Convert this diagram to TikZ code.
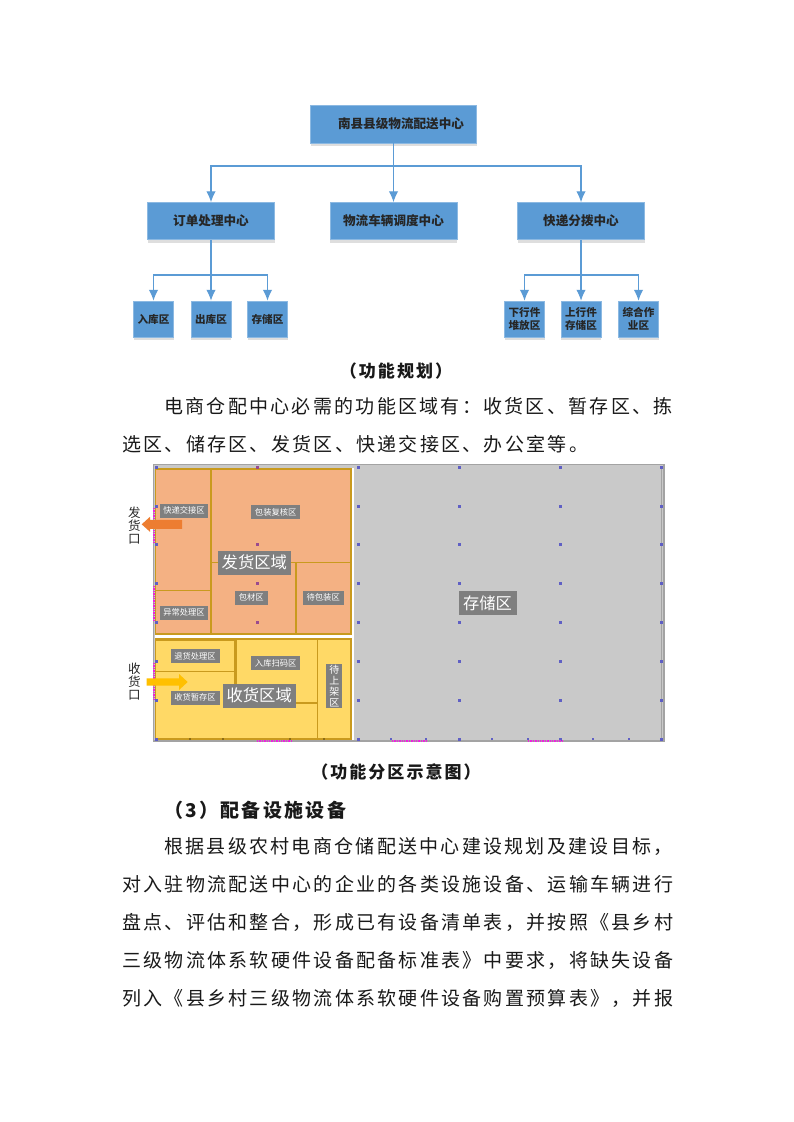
\documentclass[tikz,border=0pt]{standalone}
\usepackage{fontspec}
\usepackage{xcolor}
\usetikzlibrary{arrows.meta,shadows}
\setmainfont{Noto Sans CJK SC}
\newfontfamily\bodyfont[LetterSpace=12]{Noto Sans CJK SC}
\definecolor{boxblue}{HTML}{5B9BD5}
\definecolor{linkblue}{HTML}{5B9BD5}
\definecolor{floorgray}{HTML}{C9C9C9}
\definecolor{edgegray}{HTML}{A3A3A3}
\definecolor{tagbg}{HTML}{7F7F7F}
\definecolor{sendfill}{HTML}{F4B183}
\definecolor{takefill}{HTML}{FFD966}
\definecolor{zoneline}{HTML}{C99A1E}
\definecolor{dotblue}{HTML}{5F5FC4}
\definecolor{dotplum}{HTML}{9A4A8E}
\definecolor{doorpink}{HTML}{F020E0}
\definecolor{sendarrow}{HTML}{ED7D31}
\definecolor{takearrow}{HTML}{FFC000}
\tikzset{
  unit/.style={fill=boxblue,draw=boxblue!70!white,line width=0.5pt,inner sep=0pt,align=center,text=black!85,
    font=\bfseries\fontsize{12.6}{15}\selectfont,drop shadow={shadow xshift=0pt,shadow yshift=-3pt,opacity=.13,fill=black}},
  topunit/.style={unit,minimum width=166pt,minimum height=38pt},
  midunit/.style={unit,minimum width=127pt,minimum height=37pt},
  leafunit/.style={unit,minimum width=40pt,minimum height=36pt,font=\bfseries\fontsize{10.6}{12.5}\selectfont},
  link/.style={draw=linkblue,line width=1.2pt},
  linkto/.style={link,-{Latex[length=11pt,width=9.5pt]}},
  tag/.style={fill=tagbg,text=white,inner sep=0pt,align=center,font=\fontsize{8.3}{10}\selectfont,minimum height=14pt},
  bigtag/.style={tag,font=\fontsize{16.3}{18}\selectfont,minimum height=24pt},
  zone/.style={draw=zoneline,line width=1.2pt},
  door/.style={draw=doorpink,line width=1.4pt,densely dotted},
  mouth/.style={inner sep=0pt,align=center,font=\fontsize{12.5}{13}\selectfont,text=black!85},
  textline/.style={anchor=west,inner sep=0pt,font=\bodyfont\fontsize{19}{21}\selectfont,text=black!90},
  captext/.style={inner sep=0pt,font=\bodyfont\bfseries\fontsize{17}{21}\selectfont,text=black!90}
}
\begin{document}
\begin{tikzpicture}[x=1pt,y=-1pt]
\useasboundingbox (0,0) rectangle (793,1122);
\fill [white] (0,0) rectangle (793,1122);
% top chart
\node (root) [topunit] at (393.5,124) {\hspace*{15pt}南县县级物流配送中心};
\node (order) [midunit] at (211,221) {订单处理中心};
\node (truck) [midunit] at (393.5,221) {物流车辆调度中心};
\node (express) [midunit] at (581,221) {快递分拨中心};
\node (inbound) [leafunit] at (153.5,319) {入库区};
\node (outbound) [leafunit] at (211,319) {出库区};
\node (storage) [leafunit] at (267.5,319) {存储区};
\node (down) [leafunit] at (524.5,319) {下行件\\堆放区};
\node (up) [leafunit] at (581,319) {上行件\\存储区};
\node (mixed) [leafunit] at (638.5,319) {综合作\\业区};
\coordinate (busroot) at (393.5,166);
\coordinate (busorder) at (211,275);
\coordinate (busexpress) at (581,275);
\draw [linkto] (root.south) -- (truck.north);
\draw [linkto] (busroot) -| (order.north);
\draw [linkto] (busroot) -| (express.north);
\draw [linkto] (order.south) -- (outbound.north);
\draw [linkto] (busorder) -| (inbound.north);
\draw [linkto] (busorder) -| (storage.north);
\draw [linkto] (express.south) -- (up.north);
\draw [linkto] (busexpress) -| (down.north);
\draw [linkto] (busexpress) -| (mixed.north);
\node (capplan) [captext] at (396,371) {（功能规划）};
\node (linea) [textline] at (164,406) {电商仓配中心必需的功能区域有：收货区、暂存区、拣};
\node (lineb) [textline] at (122,444) {选区、储存区、发货区、快递交接区、办公室等。};
% floor plan
\fill [floorgray] (153,464) rectangle (665,741);
\fill [white] (155,468) rectangle (354,740);
\draw [edgegray,line width=1.2pt] (153.5,464.5) rectangle (664,741);
\draw [edgegray,line width=0.8pt] (661.5,466) -- (661.5,740);
\draw [zone,fill=sendfill] (155.7,469) rectangle (351,634);
\draw [zone] (211,469) -- (211,634);
\draw [zone] (155.7,590.7) -- (211,590.7);
\draw [zone] (211,562.3) -- (351,562.3);
\draw [zone] (296,562.3) -- (296,634);
\draw [zone,fill=takefill] (155.7,639) rectangle (351,739);
\draw [zone] (155.7,640.7) -- (235,640.7);
\draw [zone] (155.7,671.7) -- (235,671.7);
\draw [zone] (235,640) -- (235,708);
\draw [zone] (236.8,639) -- (236.8,703);
\draw [zone] (236.8,703) -- (317.3,703);
\draw [zone] (317.3,639) -- (317.3,739);
\foreach \px in {358,459,560.7,661}
  \foreach \py in {467,506,544.7,583.7,622.7,661.3,700.3,739}
    \fill [dotblue] (\px-1.5,\py-1.5) rectangle ++(3,3);
\foreach \py in {467,506,544.7,583.7,622.7,661.3,700.3,739}
  \fill [dotblue] (154.7,\py-1.5) rectangle ++(3,3);
\foreach \py in {467,544.7,583.7,622.7}
  \fill [dotplum] (255.5,\py-1.5) rectangle ++(3,3);
\foreach \px in {390.7,426,491.7,527.7,592.7,628.7}
  \fill [dotblue] (\px-1,738) rectangle ++(2,2);
\foreach \px in {189.7,223,290,324}
  \fill [zoneline!70!black] (\px-1,738) rectangle ++(2,2);
\draw [door] (154,508) -- (154,542);
\draw [door] (154,586) -- (154,622);
\draw [door] (154,663) -- (154,700);
\draw [door] (257,741) -- (292,741);
\draw [door] (392,741) -- (426,741);
\draw [door] (528,741) -- (562,741);
\fill [sendarrow] (182,519.8) -- (150,519.8) -- (150,516.8) -- (141.7,524.3) -- (150,531.8) -- (150,528.8) -- (182,528.8) -- cycle;
\fill [takearrow] (146.7,678.3) -- (179,678.3) -- (179,674) -- (187.7,682) -- (179,690) -- (179,685.7) -- (146.7,685.7) -- cycle;
\node (quick) [tag,minimum width=48pt] at (184,510.7) {快递交接区};
\node (check) [tag,minimum width=49pt] at (275.7,512) {包装复核区};
\node (sendzone) [bigtag,minimum width=73pt] at (254.3,562.5) {发货区域};
\node (material) [tag,minimum width=33pt] at (251.3,597.8) {包材区};
\node (waitpack) [tag,minimum width=41pt] at (323.2,597.8) {待包装区};
\node (fault) [tag,minimum width=48pt] at (184,612.7) {异常处理区};
\node (refund) [tag,minimum width=49pt] at (195,656.2) {退货处理区};
\node (scan) [tag,minimum width=49pt] at (275.7,663.3) {入库扫码区};
\node (hold) [tag,minimum width=49pt] at (195,697.8) {收货暂存区};
\node (takezone) [bigtag,minimum width=73pt] at (259.2,695.7) {收货区域};
\node (shelf) [tag,minimum width=16pt,minimum height=44pt,font=\fontsize{10}{10.8}\selectfont] at (334.3,686) {待\\上\\架\\区};
\node (store) [bigtag,minimum width=58pt] at (487.5,603) {存储区};
\node (sendmouth) [mouth] at (134.3,526) {发\\货\\口};
\node (takemouth) [mouth] at (134.3,682) {收\\货\\口};
% text below
\node (capzone) [captext] at (396,772) {（功能分区示意图）};
\node (linec) [textline,font=\bodyfont\bfseries\fontsize{19}{21}\selectfont] at (164,810) {（3）配备设施设备};
\node (lined) [textline] at (164,846) {根据县级农村电商仓储配送中心建设规划及建设目标，};
\node (linee) [textline] at (122,884) {对入驻物流配送中心的企业的各类设施设备、运输车辆进行};
\node (linef) [textline] at (122,922) {盘点、评估和整合，形成已有设备清单表，并按照《县乡村};
\node (lineg) [textline] at (122,960) {三级物流体系软硬件设备配备标准表》中要求，将缺失设备};
\node (lineh) [textline] at (122,998) {列入《县乡村三级物流体系软硬件设备购置预算表》，并报};
\end{tikzpicture}
\end{document}
